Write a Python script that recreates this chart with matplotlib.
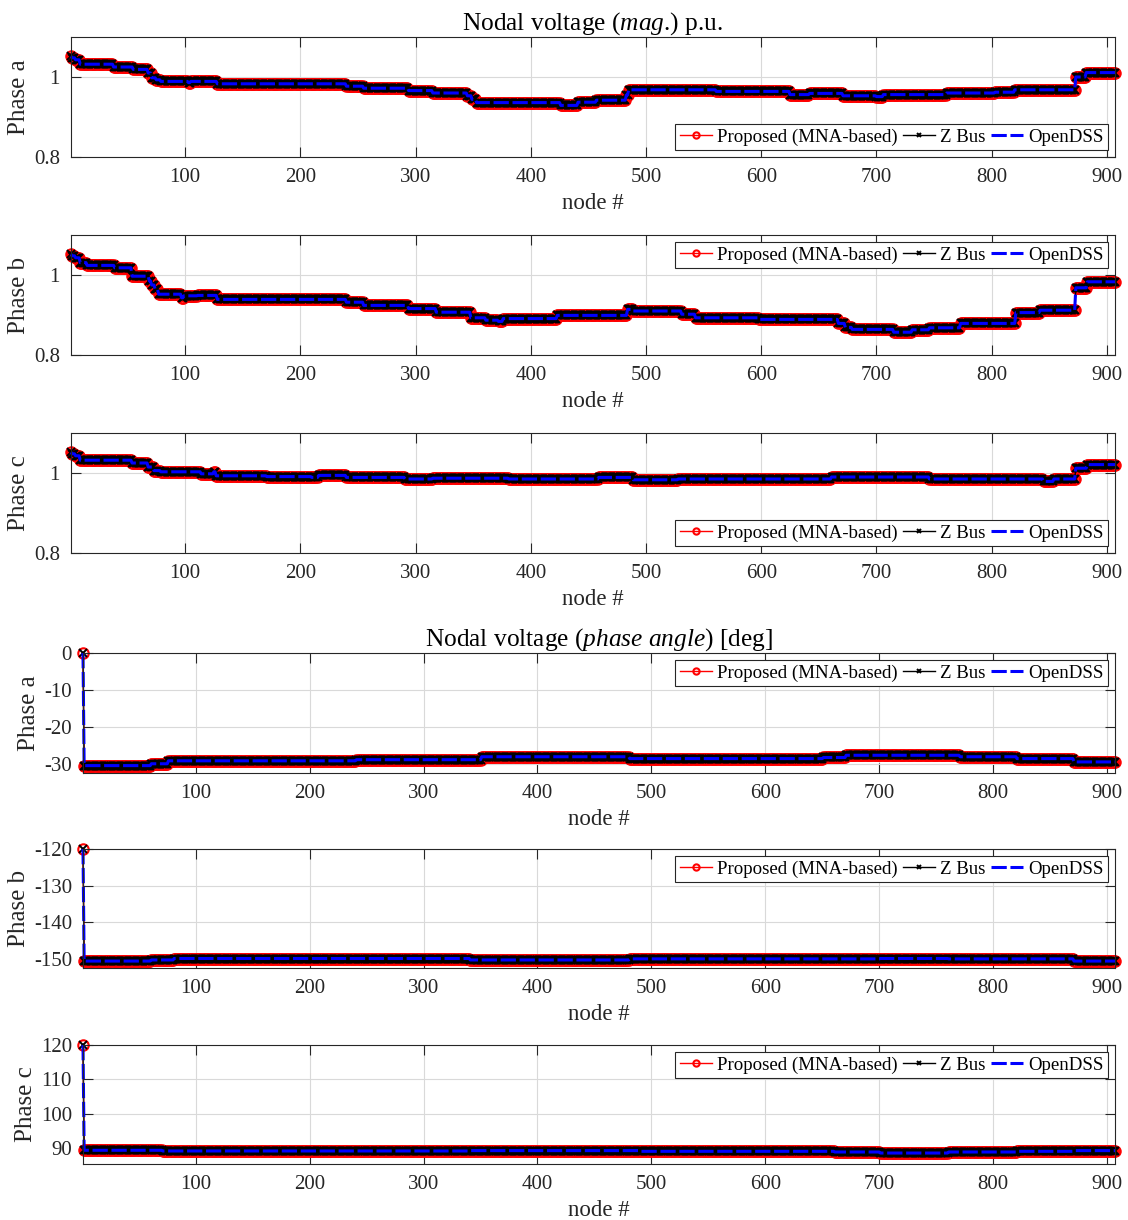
#!/usr/bin/env python3
"""Nodal voltage profiles (magnitude and phase angle), three solvers compared."""
import numpy as np
import matplotlib

matplotlib.use("Agg")
import matplotlib.pyplot as plt

# node numbering of the feeder
N_NODES = 907

# each profile is stored as runs: last node of the run and the value over it
mag_a_ends = [1, 4, 8, 37, 54, 67, 70, 74, 78, 102, 104, 127, 239, 254, 293, 314, 344,
              348, 352, 425, 440, 456, 482, 484, 560, 624, 641, 670, 699, 705, 760, 802,
              819, 872, 881, 907]
mag_a_vals = [1.052, 1.048, 1.043, 1.032, 1.025, 1.019, 1.010, 0.998, 0.993, 0.989, 0.986,
              0.989, 0.983, 0.977, 0.972, 0.966, 0.960, 0.953, 0.944, 0.936, 0.929, 0.937,
              0.942, 0.955, 0.968, 0.964, 0.956, 0.959, 0.953, 0.951, 0.956, 0.960, 0.962,
              0.968, 1.000, 1.011]

mag_b_ends = [1, 4, 8, 14, 38, 53, 68, 70, 73, 76, 96, 98, 110, 127, 239, 254, 293, 317,
              347, 360, 371, 375, 422, 483, 488, 530, 542, 597, 666, 672, 678, 714, 730,
              745, 772, 820, 841, 872, 882, 907]
mag_b_vals = [1.052, 1.048, 1.043, 1.031, 1.024, 1.018, 0.997, 0.985, 0.975, 0.965, 0.952,
              0.943, 0.948, 0.949, 0.939, 0.932, 0.924, 0.916, 0.907, 0.893, 0.887, 0.884,
              0.891, 0.899, 0.914, 0.910, 0.902, 0.893, 0.889, 0.879, 0.869, 0.864, 0.857,
              0.863, 0.868, 0.879, 0.906, 0.912, 0.968, 0.983]

mag_c_ends = [1, 4, 8, 53, 67, 72, 78, 113, 124, 126, 170, 209, 215, 239, 290, 314, 380,
              458, 488, 527, 660, 745, 844, 853, 872, 882, 907]
mag_c_vals = [1.052, 1.048, 1.043, 1.032, 1.025, 1.015, 1.006, 1.003, 0.998, 1.003, 0.993,
              0.991, 0.989, 0.994, 0.989, 0.985, 0.987, 0.985, 0.989, 0.983, 0.985, 0.990,
              0.985, 0.979, 0.985, 1.012, 1.021]

ang_a_ends = [1, 60, 75, 240, 350, 480, 500, 650, 670, 770, 820, 870, 907]
ang_a_vals = [0.0, -30.5, -30.0, -29.2, -28.9, -28.1, -28.6, -28.6, -28.3, -27.7, -28.1,
              -28.6, -29.5]

ang_b_ends = [1, 60, 80, 340, 480, 700, 760, 870, 907]
ang_b_vals = [-120.0, -150.7, -150.4, -150.0, -150.4, -150.1, -150.0, -150.1, -150.7]

ang_c_ends = [1, 70, 340, 490, 660, 700, 760, 820, 870, 907]
ang_c_vals = [120.0, 89.3, 89.1, 89.2, 89.0, 88.8, 88.5, 88.8, 89.0, 89.2]

x_ticks = [100, 200, 300, 400, 500, 600, 700, 800, 900]
mag_ticks = [0.8, 1.0]
mag_tick_labels = ["0.8", "1"]
ang_a_ticks = [-30, -20, -10, 0]
ang_b_ticks = [-150, -140, -130, -120]
ang_c_ticks = [90, 100, 110, 120]

series_names = ["Proposed (MNA-based)", "Z Bus", "OpenDSS"]


def expand(ends, vals):
    counts = np.diff([0] + ends)
    return np.repeat(np.array(vals, dtype=float), counts)


plt.rcParams["font.family"] = ["Liberation Serif", "DejaVu Serif"]
plt.rcParams["mathtext.fontset"] = "custom"
plt.rcParams["mathtext.rm"] = "Liberation Serif"
plt.rcParams["mathtext.it"] = "Liberation Serif:italic"
plt.rcParams["axes.unicode_minus"] = False

TXT = "#262626"
W, H = 1128, 1220
fig = plt.figure(figsize=(W / 100, H / 100), dpi=100)


def box(left, right, top, bottom):
    return [left / W, 1 - bottom / H, (right - left) / W, (bottom - top) / H]


panels = [
    dict(rect=box(71, 1115, 37, 157), ends=mag_a_ends, vals=mag_a_vals, ylim=(0.8, 1.1),
         ticks=mag_ticks, tlabels=mag_tick_labels, ylabel="Phase a", loc="lower right",
         title="Nodal voltage ($\\mathit{mag}$.) p.u."),
    dict(rect=box(71, 1115, 235, 355), ends=mag_b_ends, vals=mag_b_vals, ylim=(0.8, 1.1),
         ticks=mag_ticks, tlabels=mag_tick_labels, ylabel="Phase b", loc="upper right"),
    dict(rect=box(71, 1115, 433, 553), ends=mag_c_ends, vals=mag_c_vals, ylim=(0.8, 1.1),
         ticks=mag_ticks, tlabels=mag_tick_labels, ylabel="Phase c", loc="lower right"),
    dict(rect=box(83, 1115, 653, 773), ends=ang_a_ends, vals=ang_a_vals, ylim=(-32.5, 0),
         ticks=ang_a_ticks, tlabels=None, ylabel="Phase a", loc="upper right",
         title="Nodal voltage ($\\mathit{phase\\ angle}$) [deg]"),
    dict(rect=box(83, 1115, 849, 968), ends=ang_b_ends, vals=ang_b_vals, ylim=(-152.6, -120),
         ticks=ang_b_ticks, tlabels=None, ylabel="Phase b", loc="upper right"),
    dict(rect=box(83, 1115, 1045, 1164), ends=ang_c_ends, vals=ang_c_vals, ylim=(85.3, 120),
         ticks=ang_c_ticks, tlabels=None, ylabel="Phase c", loc="upper right"),
]

nodes = np.arange(1, N_NODES + 1)

for p in panels:
    ax = fig.add_axes(p["rect"])
    y = expand(p["ends"], p["vals"])
    ax.plot(nodes, y, "-o", color="red", mfc="none", ms=7.5, mew=1.5, lw=1.0,
            label=series_names[0], clip_on=False)
    ax.plot(nodes, y, "-x", color="black", ms=5.5, mew=1.4, lw=1.0,
            label=series_names[1], clip_on=False)
    ax.plot(nodes, y, color="blue", lw=2.2, ls=(0, (5, 1.2)), label=series_names[2],
            clip_on=False)

    ax.set_xlim(1, N_NODES)
    ax.set_ylim(*p["ylim"])
    ax.set_xticks(x_ticks)
    ax.set_yticks(p["ticks"])
    if p["tlabels"] is not None:
        ax.set_yticklabels(p["tlabels"])
    ax.tick_params(direction="in", length=7, width=0.8, colors=TXT, labelsize=15,
                   top=True, right=True, pad=8)
    ax.grid(True, color="#d9d9d9", lw=0.8)
    ax.set_axisbelow(True)
    for s in ax.spines.values():
        s.set_color(TXT)
        s.set_linewidth(0.8)
    ax.set_xlabel("node #", fontsize=16.5, color=TXT, labelpad=4)
    ax.set_ylabel(p["ylabel"], fontsize=18, color=TXT, labelpad=3)
    if "title" in p:
        ax.set_title(p["title"], fontsize=18.3, color="black", pad=5)
    leg = ax.legend(loc=p["loc"], ncol=3, fontsize=13.6, handlelength=1.7,
                    markerscale=0.6, handletextpad=0.3, columnspacing=0.25,
                    borderpad=0.25, borderaxespad=0.35, fancybox=False, framealpha=1,
                    edgecolor="#262626")
    leg.get_frame().set_linewidth(0.8)

fig.savefig("out.png", dpi=100)
